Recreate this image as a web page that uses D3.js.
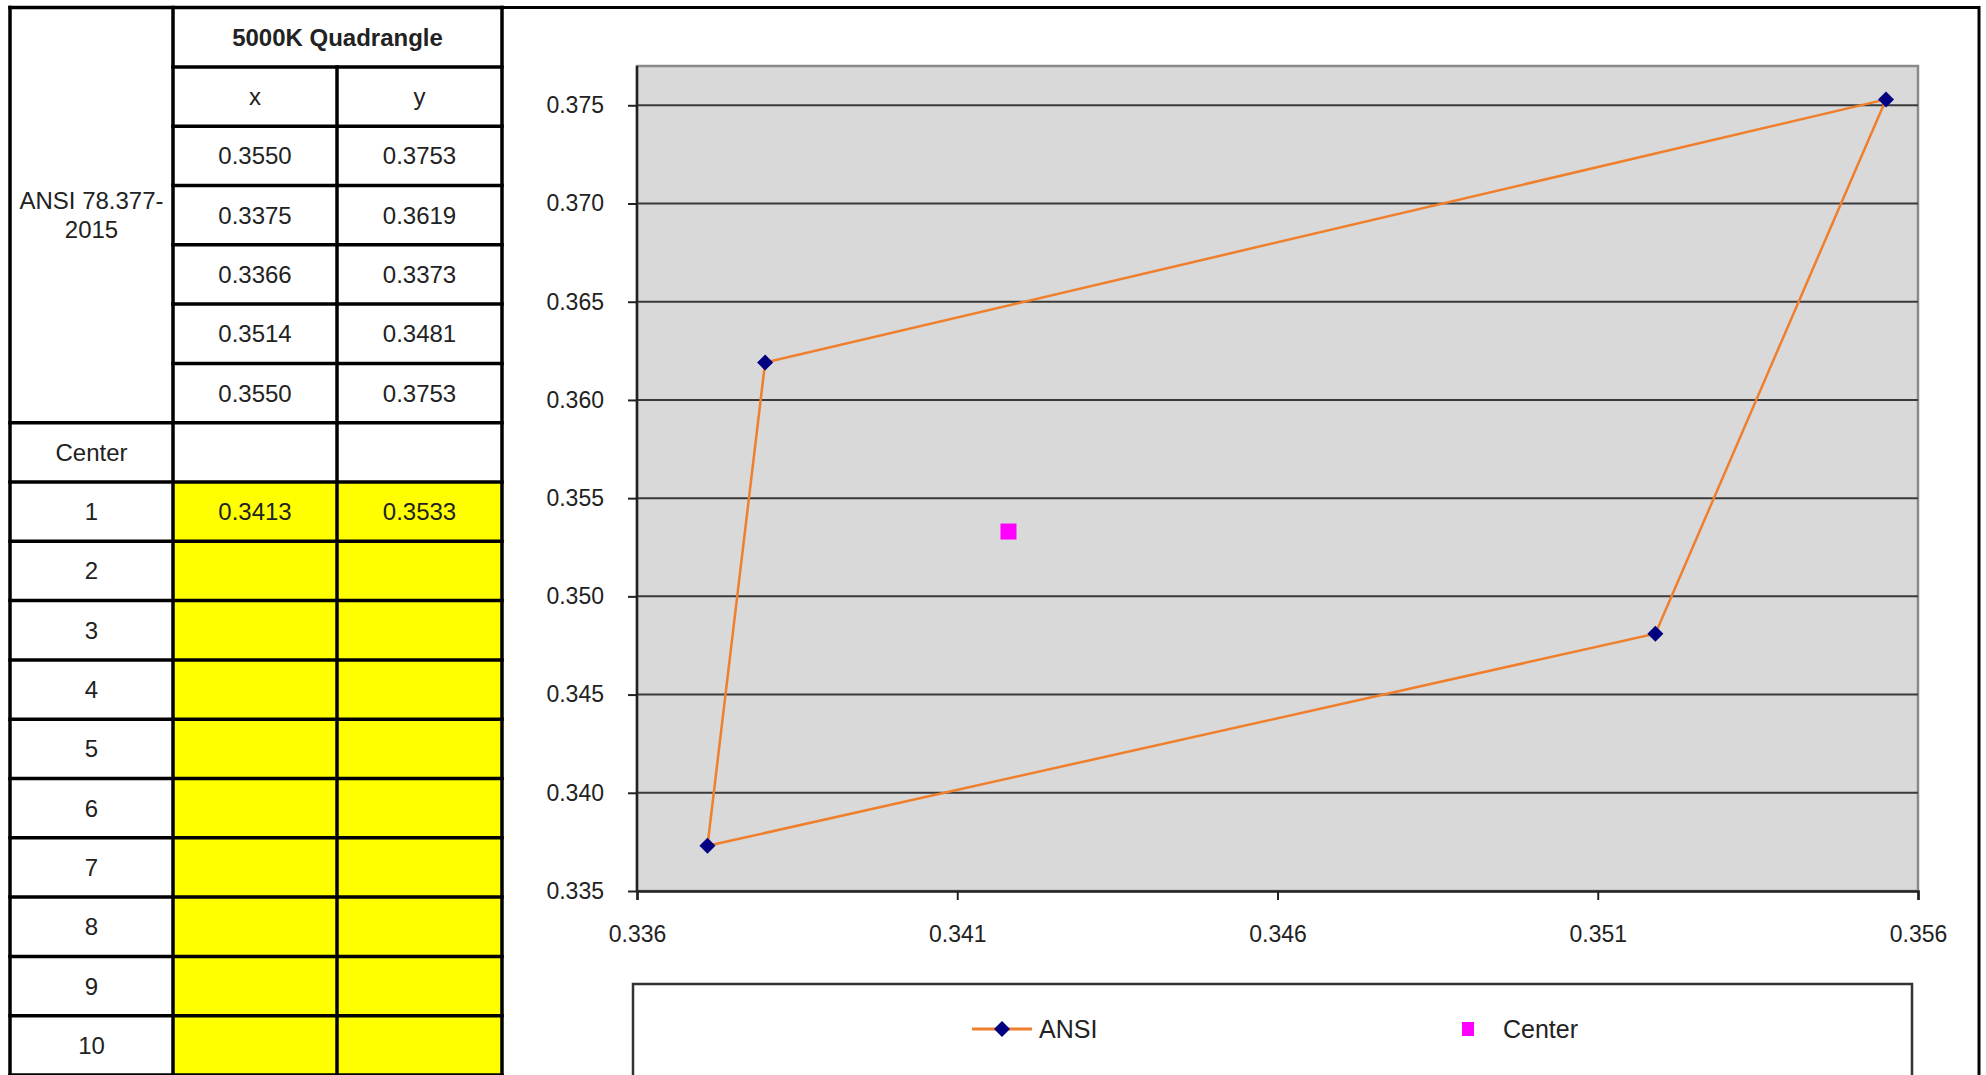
<!DOCTYPE html>
<html>
<head>
<meta charset="utf-8">
<script src="https://cdn.jsdelivr.net/npm/d3@7"></script>
<style>
  html, body { margin: 0; padding: 0; background: #fff; }
  svg { display: block; }
  text { font-family: "Liberation Sans", Arial, sans-serif; fill: #222; }
</style>
</head>
<body>
<svg id="chart" width="1986" height="1075"></svg>
<script>
// ---------------- DATA ----------------
const tableTitle = "5000K Quadrangle";
const sourceLabel = ["ANSI 78.377-", "2015"];
const colHeaders = ["x", "y"];
const quadX = [0.3550, 0.3375, 0.3366, 0.3514, 0.3550];
const quadY = [0.3753, 0.3619, 0.3373, 0.3481, 0.3753];
const centerLabel = "Center";
const sampleLabels = ["1", "2", "3", "4", "5", "6", "7", "8", "9", "10"];
const sampleX = [0.3413, null, null, null, null, null, null, null, null, null];
const sampleY = [0.3533, null, null, null, null, null, null, null, null, null];
const seriesNames = ["ANSI", "Center"];
const xTickValues = [0.3355, 0.3405, 0.3455, 0.3505, 0.3555];
const xTickLabels = ["0.336", "0.341", "0.346", "0.351", "0.356"];
const yTickValues = [0.335, 0.340, 0.345, 0.350, 0.355, 0.360, 0.365, 0.370, 0.375];
const yTickLabels = ["0.335", "0.340", "0.345", "0.350", "0.355", "0.360", "0.365", "0.370", "0.375"];
const xDomain = [0.3355, 0.3555];
const yDomain = [0.335, 0.377];

// ---------------- LAYOUT ----------------
const svg = d3.select("#chart");
svg.append("rect").attr("width", 1986).attr("height", 1075).attr("fill", "#fff");

const colX = [10, 173, 337, 502];
const rowTop = 7.6, rowH = 59.3;
const nRows = 2 + quadX.length + 1 + sampleLabels.length;
const rowY = d3.range(nRows + 1).map(i => rowTop + i * rowH);
const fs = 24;

const tbl = svg.append("g");
// yellow cells
sampleLabels.forEach((d, i) => {
  const r = 2 + quadX.length + 1 + i;
  [1, 2].forEach(c => {
    tbl.append("rect")
      .attr("x", colX[c]).attr("y", rowY[r])
      .attr("width", colX[c + 1] - colX[c]).attr("height", rowH)
      .attr("fill", "#ffff00");
  });
});

function cellText(c0, c1, r, txt, bold) {
  tbl.append("text")
    .attr("x", (colX[c0] + colX[c1]) / 2)
    .attr("y", rowY[r] + rowH / 2)
    .attr("text-anchor", "middle")
    .attr("dominant-baseline", "central")
    .attr("font-size", fs)
    .attr("font-weight", bold ? "bold" : "normal")
    .text(txt);
}
cellText(1, 3, 0, tableTitle, true);
cellText(1, 2, 1, colHeaders[0]);
cellText(2, 3, 1, colHeaders[1]);
quadX.forEach((v, i) => {
  cellText(1, 2, 2 + i, v.toFixed(4));
  cellText(2, 3, 2 + i, quadY[i].toFixed(4));
});
// merged ANSI label
const mergedMid = (rowY[0] + rowY[2 + quadX.length]) / 2;
sourceLabel.forEach((t, i) => {
  tbl.append("text")
    .attr("x", (colX[0] + colX[1]) / 2)
    .attr("y", mergedMid + (i - 0.5) * 29)
    .attr("text-anchor", "middle")
    .attr("dominant-baseline", "central")
    .attr("font-size", fs)
    .text(t);
});
const centerRow = 2 + quadX.length;
cellText(0, 1, centerRow, centerLabel);
sampleLabels.forEach((d, i) => {
  const r = centerRow + 1 + i;
  cellText(0, 1, r, d);
  if (sampleX[i] != null) cellText(1, 2, r, sampleX[i].toFixed(4));
  if (sampleY[i] != null) cellText(2, 3, r, sampleY[i].toFixed(4));
});

// table grid lines
const lw = 3.5;
const line = (x1, y1, x2, y2) => tbl.append("line")
  .attr("x1", x1).attr("y1", y1).attr("x2", x2).attr("y2", y2)
  .attr("stroke", "#000").attr("stroke-width", lw).attr("stroke-linecap", "square");
// verticals
line(colX[0], rowY[0], colX[0], rowY[nRows] + 5);
line(colX[1], rowY[0], colX[1], rowY[nRows] + 5);
line(colX[2], rowY[1], colX[2], rowY[nRows] + 5);
line(colX[3], rowY[0], colX[3], rowY[nRows] + 5);
// horizontals
for (let r = 0; r <= nRows; r++) {
  const inMerged = r > 0 && r < centerRow;
  line(inMerged ? colX[1] : colX[0], rowY[r], colX[3], rowY[r]);
}

// ---------------- CHART ----------------
// outer chart frame
svg.append("path")
  .attr("d", `M${colX[3]},${rowY[0]} L1979,${rowY[0]} L1979,1080`)
  .attr("fill", "none").attr("stroke", "#000").attr("stroke-width", 3);

const plot = { left: 637, right: 1918, top: 66, bottom: 891 };
const x = d3.scaleLinear().domain(xDomain).range([plot.left, plot.right]);
const y = d3.scaleLinear().domain(yDomain).range([plot.bottom, plot.top]);

svg.append("rect")
  .attr("x", plot.left).attr("y", plot.top)
  .attr("width", plot.right - plot.left).attr("height", plot.bottom - plot.top)
  .attr("fill", "#d9d9d9").attr("stroke", "#8a8a8a").attr("stroke-width", 2.5);

// gridlines
svg.append("g").selectAll("line")
  .data(yTickValues.slice(1))
  .join("line")
  .attr("x1", plot.left).attr("x2", plot.right)
  .attr("y1", d => y(d)).attr("y2", d => y(d))
  .attr("stroke", "#3a3a3a").attr("stroke-width", 2);

// axes
const yAxis = d3.axisLeft(y).tickValues(yTickValues)
  .tickFormat((d, i) => yTickLabels[i]).tickSize(9).tickPadding(24);
const gy = svg.append("g").attr("transform", `translate(${plot.left},0)`).call(yAxis);
const xAxis = d3.axisBottom(x).tickValues(xTickValues)
  .tickFormat((d, i) => xTickLabels[i]).tickSize(9).tickPadding(26);
const gx = svg.append("g").attr("transform", `translate(0,${plot.bottom})`).call(xAxis);
[gx, gy].forEach(g => {
  g.select(".domain").attr("stroke", "#222").attr("stroke-width", 2.5);
  g.selectAll(".tick line").attr("stroke", "#222").attr("stroke-width", 2);
  g.selectAll(".tick text").attr("font-size", 23)
    .attr("font-family", "'Liberation Sans', Arial, sans-serif").attr("fill", "#333");
});
gy.select(".domain").attr("d", `M-9,${plot.top}H0V${plot.bottom}`).attr("stroke", "none");
svg.append("line").attr("x1", plot.left).attr("x2", plot.left)
  .attr("y1", plot.top).attr("y2", plot.bottom).attr("stroke", "#222").attr("stroke-width", 2.5);

// ANSI series
const orange = "#ef7f2c";
const navy = "#000080";
const pts = quadX.map((v, i) => [v, quadY[i]]);
svg.append("path")
  .datum(pts)
  .attr("d", d3.line().x(d => x(d[0])).y(d => y(d[1])))
  .attr("fill", "none").attr("stroke", orange).attr("stroke-width", 2.5);
const diamond = (cx, cy, r) => `M${cx},${cy - r}L${cx + r},${cy}L${cx},${cy + r}L${cx - r},${cy}Z`;
svg.append("g").selectAll("path")
  .data(pts.slice(0, 4))
  .join("path")
  .attr("d", d => diamond(x(d[0]), y(d[1]), 8))
  .attr("fill", navy);

// Center series
const centerPts = sampleX.map((v, i) => [v, sampleY[i]]).filter(d => d[0] != null);
svg.append("g").selectAll("rect")
  .data(centerPts)
  .join("rect")
  .attr("x", d => x(d[0]) - 8).attr("y", d => y(d[1]) - 8)
  .attr("width", 16).attr("height", 16)
  .attr("fill", "#ff00ff");

// Legend
const lg = svg.append("g");
lg.append("rect").attr("x", 633).attr("y", 984).attr("width", 1279).attr("height", 110)
  .attr("fill", "#fff").attr("stroke", "#333").attr("stroke-width", 2.5);
const ly = 1029;
lg.append("line").attr("x1", 972).attr("x2", 1032).attr("y1", ly).attr("y2", ly)
  .attr("stroke", orange).attr("stroke-width", 3);
lg.append("path").attr("d", diamond(1002, ly, 8)).attr("fill", navy);
lg.append("text").attr("x", 1039).attr("y", ly).attr("dominant-baseline", "central")
  .attr("font-size", 25).attr("fill", "#333").text(seriesNames[0]);
lg.append("rect").attr("x", 1462).attr("y", ly - 7).attr("width", 12).attr("height", 14)
  .attr("fill", "#ff00ff");
lg.append("text").attr("x", 1503).attr("y", ly).attr("dominant-baseline", "central")
  .attr("font-size", 25).attr("fill", "#333").text(seriesNames[1]);
</script>
</body>
</html>
